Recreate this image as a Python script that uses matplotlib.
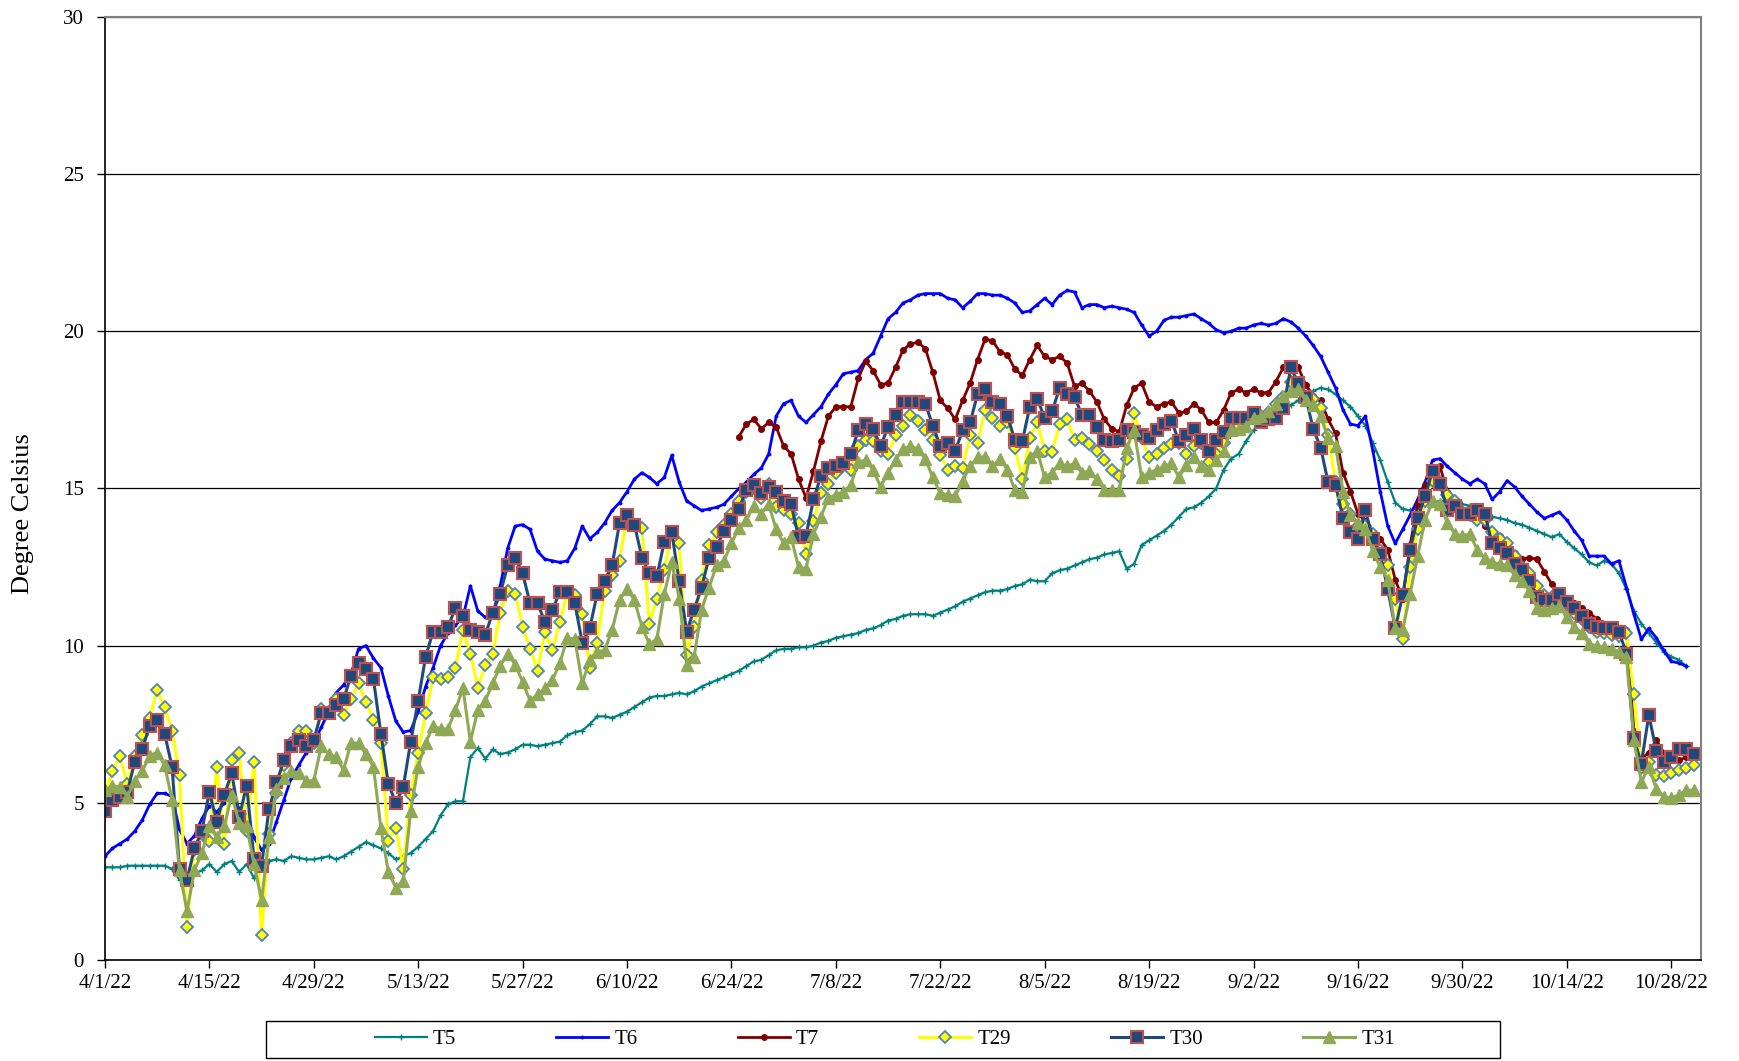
import matplotlib
matplotlib.use("Agg")
import matplotlib.pyplot as plt
from matplotlib.patches import Rectangle
from matplotlib.ticker import FuncFormatter
import matplotlib.dates as mdates
import pandas as pd

# daily water temperatures, starting 4/1/22 (T7 starts 6/25/22)
START = "2022-04-01"
T7_START = "2022-06-25"
END = "2022-11-01"

t5 = [2.95, 2.95, 2.95, 3.0, 3.0, 3.0, 3.0, 3.0, 3.0, 2.9,
      2.55, 2.6, 2.75, 2.85, 3.05, 2.8, 3.05, 3.15, 2.8, 3.05,
      2.6, 3.1, 3.15, 3.2, 3.15, 3.3, 3.25, 3.2, 3.2, 3.25,
      3.3, 3.2, 3.3, 3.45, 3.6, 3.75, 3.65, 3.55, 3.4, 3.2,
      3.3, 3.4, 3.6, 3.85, 4.1, 4.6, 4.95, 5.05, 5.05, 6.45,
      6.75, 6.4, 6.7, 6.55, 6.6, 6.7, 6.85, 6.85, 6.8, 6.85,
      6.9, 6.95, 7.15, 7.25, 7.3, 7.5, 7.75, 7.75, 7.7, 7.8,
      7.9, 8.05, 8.2, 8.35, 8.4, 8.4, 8.45, 8.5, 8.45, 8.55,
      8.7, 8.8, 8.9, 9.0, 9.1, 9.2, 9.35, 9.5, 9.55, 9.7,
      9.85, 9.9, 9.9, 9.95, 9.95, 10.0, 10.1, 10.15, 10.25, 10.3,
      10.35, 10.4, 10.5, 10.55, 10.65, 10.8, 10.85, 10.95, 11.0, 11.0,
      11.0, 10.95, 11.05, 11.15, 11.25, 11.4, 11.5, 11.6, 11.7, 11.75,
      11.75, 11.8, 11.9, 11.95, 12.1, 12.05, 12.05, 12.3, 12.4, 12.45,
      12.55, 12.65, 12.75, 12.8, 12.9, 12.95, 13.0, 12.45, 12.6, 13.2,
      13.35, 13.5, 13.65, 13.85, 14.1, 14.35, 14.4, 14.55, 14.75, 15.0,
      15.6, 15.95, 16.1, 16.5, 16.85, 17.1, 17.25, 17.35, 17.5, 17.65,
      17.8, 17.95, 18.1, 18.2, 18.15, 18.0, 17.8, 17.6, 17.3, 17.0,
      16.45, 15.9, 15.2, 14.55, 14.35, 14.3, 14.4, 14.5, 14.55, 14.6,
      14.6, 14.55, 14.5, 14.45, 14.4, 14.25, 14.1, 14.05, 14.0, 13.9,
      13.85, 13.75, 13.65, 13.55, 13.45, 13.55, 13.3, 13.1, 12.9, 12.65,
      12.55, 12.7, 12.6, 12.3, 11.8, 11.1, 10.7, 10.4, 10.1, 9.8,
      9.65, 9.55, 9.35]

t6 = [3.3, 3.55, 3.7, 3.85, 4.1, 4.45, 4.95, 5.3, 5.3, 5.2,
      4.15, 3.7, 3.95, 4.5, 4.9, 4.7, 5.0, 5.4, 4.8, 4.6,
      3.9, 3.5, 3.7, 4.4, 5.1, 5.8, 6.2, 6.6, 6.9, 7.4,
      7.9, 8.5, 8.75, 9.1, 9.9, 10.0, 9.6, 9.3, 8.4, 7.6,
      7.25, 7.3, 7.9, 8.7, 9.3, 10.0, 10.4, 10.65, 10.9, 11.9,
      11.1, 10.9, 11.0, 11.9, 13.1, 13.8, 13.85, 13.7, 13.0, 12.75,
      12.7, 12.65, 12.7, 13.1, 13.8, 13.4, 13.6, 13.9, 14.3, 14.55,
      14.9, 15.3, 15.5, 15.35, 15.15, 15.35, 16.05, 15.2, 14.6, 14.45,
      14.3, 14.35, 14.4, 14.5, 14.75, 15.0, 15.2, 15.45, 15.65, 16.1,
      17.3, 17.7, 17.8, 17.3, 17.1, 17.35, 17.6, 18.0, 18.3, 18.65,
      18.7, 18.75, 19.1, 19.3, 19.85, 20.4, 20.6, 20.9, 21.0, 21.15,
      21.2, 21.2, 21.2, 21.05, 21.0, 20.75, 20.95, 21.2, 21.2, 21.15,
      21.15, 21.05, 20.9, 20.6, 20.65, 20.85, 21.05, 20.85, 21.15, 21.3,
      21.25, 20.75, 20.85, 20.85, 20.75, 20.8, 20.75, 20.7, 20.6, 20.2,
      19.85, 20.0, 20.35, 20.45, 20.45, 20.5, 20.55, 20.4, 20.25, 20.05,
      19.95, 20.0, 20.1, 20.1, 20.2, 20.25, 20.2, 20.25, 20.4, 20.3,
      20.1, 19.85, 19.55, 19.2, 18.7, 18.2, 17.5, 17.05, 17.0, 17.3,
      16.2, 14.9, 13.8, 13.25, 13.7, 14.15, 14.65, 15.2, 15.9, 15.95,
      15.7, 15.5, 15.3, 15.15, 15.3, 15.15, 14.65, 14.9, 15.25, 15.05,
      14.75, 14.5, 14.25, 14.05, 14.15, 14.25, 14.0, 13.65, 13.35, 12.85,
      12.85, 12.85, 12.6, 12.7, 11.85, 11.0, 10.2, 10.55, 10.25, 9.85,
      9.5, 9.45, 9.35]

t7 = [16.65, 17.05, 17.2, 16.9, 17.1, 16.95, 16.35, 16.1, 15.3, 14.7,
      15.55, 16.5, 17.3, 17.6, 17.6, 17.6, 18.5, 19.05, 18.75, 18.3,
      18.35, 18.85, 19.4, 19.6, 19.65, 19.45, 18.7, 17.8, 17.55, 17.2,
      17.8, 18.35, 19.1, 19.75, 19.7, 19.35, 19.25, 18.8, 18.6, 19.1,
      19.55, 19.2, 19.1, 19.2, 19.0, 18.25, 18.35, 18.1, 17.75, 17.2,
      16.9, 16.8, 17.65, 18.2, 18.35, 17.75, 17.6, 17.7, 17.75, 17.4,
      17.45, 17.7, 17.5, 17.1, 17.1, 17.5, 18.05, 18.15, 18.05, 18.15,
      18.05, 18.05, 18.4, 18.85, 19.0, 18.85, 18.3, 17.95, 17.8, 17.2,
      16.75, 15.5, 14.9, 14.2, 13.95, 13.6, 13.4, 13.05, 12.1, 11.5,
      13.2, 14.5, 15.1, 15.6, 15.7, 14.9, 14.4, 14.3, 14.3, 14.2,
      13.8, 13.6, 13.5, 13.2, 12.95, 12.75, 12.8, 12.75, 12.35, 11.95,
      11.7, 11.5, 11.35, 11.2, 11.05, 10.85, 10.7, 10.6, 10.55, 10.5,
      7.3, 6.4, 6.6, 7.0, 6.6, 6.4, 6.35, 6.45, 6.55]

t29 = [5.3, 6.0, 6.5, 5.6, 6.5, 7.15, 7.7, 8.6, 8.05, 7.3,
       5.9, 1.05, 3.5, 4.0, 3.8, 6.15, 3.7, 6.35, 6.6, 4.1,
       6.3, 0.8, 4.0, 5.3, 6.2, 6.9, 7.3, 7.3, 6.9, 8.0,
       7.9, 8.3, 7.8, 8.3, 8.8, 8.2, 7.65, 6.9, 3.8, 4.2,
       2.9, 5.25, 6.6, 7.85, 9.0, 8.95, 9.0, 9.3, 10.5, 9.75,
       8.65, 9.4, 9.75, 11.05, 11.75, 11.65, 10.6, 9.9, 9.2, 10.45,
       9.85, 10.75, 11.7, 11.6, 11.0, 9.3, 10.1, 11.75, 12.25, 12.7,
       14.15, 13.85, 13.75, 10.7, 11.5, 12.4, 13.6, 13.25, 9.7, 10.6,
       12.1, 13.2, 13.6, 13.85, 14.2, 14.6, 14.9, 15.0, 14.7, 15.15,
       14.4, 14.3, 14.2, 13.9, 12.9, 13.95, 14.85, 15.15, 15.5, 15.7,
       15.6, 16.35, 16.55, 16.5, 16.2, 16.1, 16.7, 17.0, 17.35, 17.15,
       16.85, 16.55, 16.05, 15.6, 15.7, 15.65, 16.7, 16.45, 17.5, 17.25,
       17.0, 17.1, 16.3, 15.3, 16.6, 17.1, 16.2, 16.15, 17.05, 17.2,
       16.55, 16.6, 16.4, 16.2, 15.9, 15.6, 15.4, 15.95, 17.4, 16.6,
       16.0, 16.1, 16.3, 16.4, 16.45, 16.1, 16.35, 16.45, 15.85, 16.1,
       16.45, 16.85, 17.0, 17.1, 17.3, 17.3, 17.4, 17.7, 17.9, 18.4,
       18.2, 17.9, 17.85, 17.55, 16.7, 15.2, 14.5, 14.2, 13.8, 13.8,
       13.55, 13.05, 12.55, 11.5, 10.2, 12.5, 13.7, 14.6, 15.25, 15.2,
       14.8, 14.6, 14.25, 14.15, 14.0, 14.0, 13.6, 13.4, 13.25, 12.85,
       12.5, 12.3, 11.9, 11.6, 11.55, 11.5, 11.3, 11.05, 10.85, 10.6,
       10.45, 10.4, 10.35, 10.3, 10.4, 8.45, 6.1, 6.3, 5.9, 5.85,
       5.95, 6.05, 6.1, 6.2]

t30 = [4.75, 5.1, 5.2, 5.35, 6.3, 6.7, 7.45, 7.65, 7.2, 6.15,
       2.9, 2.55, 3.55, 4.1, 5.35, 4.4, 5.25, 5.95, 4.55, 5.55,
       3.2, 3.0, 4.8, 5.65, 6.35, 6.8, 7.0, 6.8, 7.0, 7.85,
       7.85, 8.1, 8.3, 9.05, 9.45, 9.25, 8.95, 7.2, 5.6, 5.0,
       5.5, 6.95, 8.25, 9.65, 10.45, 10.45, 10.6, 11.2, 10.95, 10.5,
       10.45, 10.35, 11.05, 11.65, 12.55, 12.8, 12.3, 11.35, 11.35, 10.75,
       11.15, 11.7, 11.7, 11.35, 10.1, 10.55, 11.65, 12.05, 12.55, 13.9,
       14.15, 13.85, 12.8, 12.3, 12.2, 13.3, 13.6, 12.05, 10.45, 11.15,
       11.85, 12.8, 13.15, 13.65, 14.0, 14.35, 14.95, 15.1, 14.85, 15.05,
       14.9, 14.6, 14.5, 13.45, 13.5, 14.65, 15.4, 15.65, 15.7, 15.8,
       16.1, 16.85, 17.05, 16.9, 16.35, 16.95, 17.35, 17.75, 17.75, 17.75,
       17.7, 17.0, 16.35, 16.45, 16.2, 16.85, 17.1, 18.0, 18.15, 17.75,
       17.7, 17.3, 16.55, 16.5, 17.6, 17.85, 17.25, 17.45, 18.2, 18.0,
       17.9, 17.35, 17.35, 16.95, 16.55, 16.5, 16.55, 16.85, 16.8, 16.7,
       16.6, 16.85, 17.05, 17.15, 16.5, 16.7, 16.9, 16.55, 16.2, 16.55,
       16.8, 17.25, 17.25, 17.25, 17.4, 17.1, 17.2, 17.25, 17.55, 18.85,
       18.35, 17.9, 16.9, 16.3, 15.2, 15.1, 14.05, 13.6, 13.4, 14.3,
       13.4, 12.9, 11.8, 10.55, 11.6, 13.05, 14.05, 14.75, 15.55, 15.15,
       14.3, 14.45, 14.2, 14.2, 14.3, 14.2, 13.25, 13.1, 12.95, 12.6,
       12.4, 12.05, 11.55, 11.45, 11.45, 11.65, 11.4, 11.2, 10.95, 10.7,
       10.6, 10.55, 10.55, 10.45, 9.75, 7.05, 6.25, 7.8, 6.65, 6.3,
       6.45, 6.7, 6.7, 6.55]

t31 = [5.4, 5.55, 5.5, 5.2, 5.7, 6.0, 6.5, 6.6, 6.2, 5.1,
       2.85, 1.55, 2.85, 3.4, 4.25, 3.9, 4.25, 5.25, 4.35, 4.25,
       3.05, 1.9, 3.9, 5.45, 5.8, 6.0, 5.95, 5.7, 5.7, 6.8,
       6.55, 6.45, 6.05, 6.9, 6.9, 6.55, 6.15, 4.2, 2.8, 2.3,
       2.5, 4.75, 6.15, 6.9, 7.45, 7.35, 7.35, 7.95, 8.65, 6.95,
       7.95, 8.25, 8.8, 9.35, 9.75, 9.4, 8.85, 8.25, 8.45, 8.65,
       8.9, 9.45, 10.25, 10.2, 8.8, 9.55, 9.8, 9.85, 10.5, 11.45,
       11.8, 11.45, 10.6, 10.05, 10.2, 11.65, 12.65, 11.5, 9.4, 9.65,
       11.15, 11.85, 12.55, 12.7, 13.25, 13.75, 14.0, 14.45, 14.2, 14.5,
       13.7, 13.25, 13.45, 12.5, 12.45, 13.55, 14.1, 14.7, 14.8, 14.9,
       15.1, 15.85, 15.9, 15.6, 15.05, 15.5, 15.9, 16.25, 16.35, 16.25,
       15.95, 15.35, 14.85, 14.8, 14.75, 15.25, 15.7, 16.0, 16.0, 15.7,
       15.95, 15.6, 14.95, 14.9, 16.0, 16.2, 15.35, 15.5, 15.8, 15.7,
       15.8, 15.5, 15.55, 15.3, 14.95, 14.95, 14.95, 16.3, 16.85, 15.35,
       15.5, 15.6, 15.7, 15.8, 15.35, 15.75, 16.0, 15.7, 15.6, 15.9,
       16.2, 16.85, 16.9, 17.0, 17.25, 17.3, 17.45, 17.7, 17.95, 18.1,
       18.15, 17.8, 17.65, 17.3, 16.6, 16.35, 14.9, 14.15, 13.9, 13.7,
       13.0, 12.5, 12.1, 10.55, 10.5, 11.65, 12.85, 14.0, 14.6, 14.5,
       13.9, 13.55, 13.5, 13.55, 13.05, 12.8, 12.65, 12.6, 12.55, 12.25,
       12.05, 11.75, 11.2, 11.15, 11.2, 11.25, 10.9, 10.6, 10.4, 10.05,
       10.0, 9.95, 9.9, 9.8, 9.65, 7.0, 5.65, 6.15, 5.45, 5.2,
       5.15, 5.25, 5.4, 5.4]

plt.rcParams["font.family"] = ["Liberation Serif", "DejaVu Serif"]


def days(vals, start=START):
    return pd.date_range(start, periods=len(vals), freq="D")


fig = plt.figure(figsize=(17.4, 10.61), dpi=100)
ax = fig.add_axes([0.0603, 0.0952, 0.9173, 0.8888])

h5, = ax.plot(days(t5), t5, color="#008080", lw=1.6, marker="+", ms=4, mew=1)
h6, = ax.plot(days(t6), t6, color="#0000FF", lw=2.0, marker="o", ms=1.8)
h7, = ax.plot(days(t7, T7_START), t7, color="#800000", lw=2.0, marker="o", ms=4)
h29, = ax.plot(days(t29), t29, color="#FFFF00", lw=2.2, marker="D", ms=6.5,
               mfc="#FFFF00", mec="#4F81BD", mew=1.3)
h30, = ax.plot(days(t30), t30, color="#1F497D", lw=2.2, marker="s", ms=8,
               mfc="#1F497D", mec="#C0504D", mew=1.5)
h31, = ax.plot(days(t31), t31, color="#8FA855", lw=2.2, marker="^", ms=9,
               mfc="#8FA855", mec="#8FA855")

ax.set_ylim(0, 30)
ax.set_yticks(range(0, 31, 5))
ax.set_xlim(pd.Timestamp(START), pd.Timestamp(END))
ax.set_xticks(pd.date_range(START, "2022-10-28", freq="14D"))
ax.xaxis.set_major_formatter(FuncFormatter(
    lambda v, p: "{d.month}/{d.day}/{d:%y}".format(d=mdates.num2date(v))))
ax.tick_params(labelsize=15, direction="out", length=6, width=1, colors="black")
ax.tick_params(axis="x", pad=4)
ax.tick_params(axis="y", pad=9)
ax.yaxis.grid(True, color="black", lw=0.9)
ax.set_axisbelow(True)
for s in ("left", "bottom"):
    ax.spines[s].set_color("black")
    ax.spines[s].set_linewidth(1.2)
for s in ("top", "right"):
    ax.spines[s].set_color("#808080")
    ax.spines[s].set_linewidth(1.5)

fig.text(0.013, 0.5155, "Degree Celsius", rotation=90, ha="center", va="center",
         fontsize=19)

fig.legend([h5, h6, h7, h29, h30, h31], ["T5", "T6", "T7", "T29", "T30", "T31"],
           loc="center", bbox_to_anchor=(0.5085, 0.0207), ncol=6, frameon=False,
           fontsize=15, handlelength=2.5, handletextpad=0.3, columnspacing=4.8,
           numpoints=1)
fig.add_artist(Rectangle((0.1529, 0.0028), 0.709, 0.0349, transform=fig.transFigure,
                         fill=False, ec="black", lw=1))

fig.savefig("out.png", dpi=100)
